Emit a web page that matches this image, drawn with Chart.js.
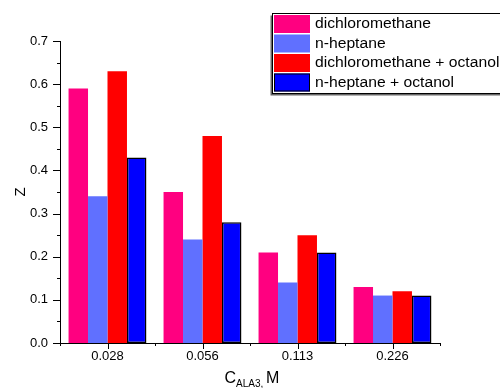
<!DOCTYPE html>
<html>
<head>
<meta charset="utf-8">
<script src="https://cdn.jsdelivr.net/npm/chart.js@4/dist/chart.umd.min.js"></script>
<style>
  html, body { margin: 0; padding: 0; background: #fff; }
  #wrap { width: 500px; height: 388px; position: relative; overflow: hidden; }
</style>
</head>
<body>
<div id="wrap"><canvas id="c" width="500" height="388"></canvas></div>
<script>
// Concentrations of ALA3 (M) and distribution values Z for each solvent system
const concentrations = ['0.028', '0.056', '0.113', '0.226'];
const dichloromethane = [0.59, 0.35, 0.21, 0.13];
const nHeptane = [0.34, 0.24, 0.14, 0.11];
const dichloromethaneOctanol = [0.63, 0.48, 0.25, 0.12];
const nHeptaneOctanol = [0.43, 0.28, 0.21, 0.11];
const yTicks = [0, 0.1, 0.2, 0.3, 0.4, 0.5, 0.6, 0.7];

const FONT = '"Liberation Sans", Arial, sans-serif';

// Axis tick marks (major at labels, minor in between), legend box and axis titles
const decorations = {
  id: 'decorations',
  afterDraw(chart) {
    const ctx = chart.ctx;
    const xs = chart.scales.x, ys = chart.scales.y;
    const area = chart.chartArea;
    ctx.save();
    ctx.strokeStyle = '#000';
    ctx.lineWidth = 1;
    ctx.beginPath();
    // x ticks
    concentrations.forEach((c, i) => {
      const px = Math.round(xs.getPixelForValue(i)) + 0.5;
      ctx.moveTo(px, area.bottom); ctx.lineTo(px, area.bottom + 6);
    });
    for (let i = 0; i <= concentrations.length; i++) {
      const px = Math.round(xs.getPixelForValue(i - 0.5)) + 0.5;
      ctx.moveTo(px, area.bottom); ctx.lineTo(px, area.bottom + 3);
    }
    // y ticks
    yTicks.forEach((v, i) => {
      const py = Math.round(ys.getPixelForValue(v)) + 0.5;
      ctx.moveTo(area.left, py); ctx.lineTo(area.left - 7, py);
      if (i < yTicks.length - 1) {
        const pm = Math.round(ys.getPixelForValue(v + 0.05)) + 0.5;
        ctx.moveTo(area.left, pm); ctx.lineTo(area.left - 3, pm);
      }
    });
    ctx.stroke();

    // y title
    ctx.fillStyle = '#000';
    ctx.save();
    ctx.translate(21, 192);
    ctx.rotate(-Math.PI / 2);
    ctx.font = '15px ' + FONT;
    ctx.textAlign = 'center';
    ctx.textBaseline = 'middle';
    ctx.fillText('Z', 0, 0);
    ctx.restore();

    // x title with subscript
    ctx.textBaseline = 'alphabetic';
    ctx.textAlign = 'left';
    const big = '16px ' + FONT, small = '10px ' + FONT;
    ctx.font = big; const wC = ctx.measureText('C').width; const wM = ctx.measureText('M').width;
    ctx.font = small; const wS = ctx.measureText('ALA3, ').width;
    let x0 = 252 - (wC + wS + wM) / 2;
    const base = 383;
    ctx.font = big; ctx.fillText('C', x0, base);
    ctx.font = small; ctx.fillText('ALA3, ', x0 + wC, base + 4);
    ctx.font = big; ctx.fillText('M', x0 + wC + wS, base);

    // legend box with shadow
    const lx = 272.5, ly = 13.5, lw = 240, lh = 80;
    ctx.fillStyle = '#666';
    ctx.fillRect(lx - 2, ly + 2, lw, lh);
    ctx.fillStyle = '#fff';
    ctx.fillRect(lx, ly, lw, lh);
    ctx.strokeStyle = '#000';
    ctx.strokeRect(lx, ly, lw, lh);
    ctx.textBaseline = 'middle';
    chart.data.datasets.forEach((ds, i) => {
      const ry = 15 + i * 19.5;
      ctx.fillStyle = ds.backgroundColor;
      ctx.fillRect(274, ry, 36, 18);
      if (ds.borderWidth) {
        ctx.strokeStyle = ds.borderColor;
        ctx.strokeRect(274.5, ry + 0.5, 35, 17);
      }
      ctx.fillStyle = '#000';
      ctx.save();
      ctx.translate(315, ry + 9.5);
      ctx.scale(1.12, 1);
      ctx.font = '14px ' + FONT;
      ctx.fillText(ds.label, 0, 0);
      ctx.restore();
    });
    ctx.restore();
  }
};

new Chart(document.getElementById('c'), {
  type: 'bar',
  data: {
    labels: concentrations,
    datasets: [
      { label: 'dichloromethane', data: dichloromethane, backgroundColor: '#FF0080', borderWidth: 0 },
      { label: 'n-heptane', data: nHeptane, backgroundColor: '#6070FF', borderWidth: 0 },
      { label: 'dichloromethane + octanol', data: dichloromethaneOctanol, backgroundColor: '#FF0000', borderWidth: 0 },
      { label: 'n-heptane + octanol', data: nHeptaneOctanol, backgroundColor: '#0000FF', borderColor: '#000', borderWidth: 1.5, borderSkipped: false }
    ]
  },
  options: {
    responsive: false,
    animation: false,
    devicePixelRatio: 1,
    layout: { padding: { top: 41, right: 60, left: 0, bottom: 0 } },
    categoryPercentage: 0.82,
    barPercentage: 1.0,
    plugins: { legend: { display: false }, tooltip: { enabled: false } },
    scales: {
      x: {
        offset: true,
        grid: { display: false, drawTicks: false, tickLength: 0 },
        border: { display: true, color: '#000', width: 1 },
        ticks: { color: '#000', font: { family: FONT, size: 13 }, padding: 6, maxRotation: 0 },
        afterFit(s) { s.height = 45; }
      },
      y: {
        min: 0, max: 0.7,
        grid: { display: false, drawTicks: false, tickLength: 0 },
        border: { display: true, color: '#000', width: 1 },
        ticks: {
          stepSize: 0.1, color: '#000', font: { family: FONT, size: 13 }, padding: 12,
          callback: v => v.toFixed(1)
        },
        afterFit(s) { s.width = 60; }
      }
    }
  },
  plugins: [decorations]
});
</script>
</body>
</html>
